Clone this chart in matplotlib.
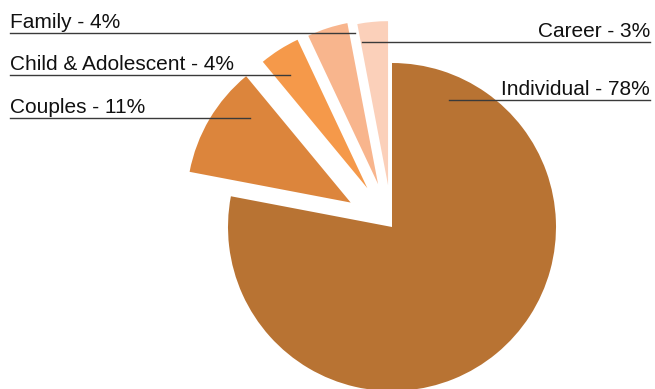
import matplotlib.pyplot as plt

# data
labels = ['Individual', 'Couples', 'Child & Adolescent', 'Family', 'Career']
values = [78, 11, 4, 4, 3]
colors = ['#B87333', '#DC853C', '#F5994A', '#F8B58D', '#FBD0BA']

W, H = 655, 389
fig = plt.figure(figsize=(W / 100, H / 100), dpi=100)
ax = fig.add_axes([0, 0, 1, 1])
ax.set_xlim(0, W)
ax.set_ylim(0, H)
ax.axis('off')

def py(y):
    # pixel row -> data y
    return H - y

ax.pie(values, colors=colors, startangle=90, counterclock=False,
       center=(392, py(227)), radius=164, explode=[0, 48, 46, 45, 42],
       wedgeprops=dict(linewidth=0))
ax.set_xlim(0, W)
ax.set_ylim(0, H)
ax.set_aspect('equal')

font = dict(family='Liberation Sans', fontsize=15, color='#111111')
lc = '#3a3a3a'

# left labels
left = [('Family', 28, 355), ('Child & Adolescent', 70, 290), ('Couples', 113, 250)]
for name, yb, xend in left:
    v = values[labels.index(name)]
    ax.text(10, py(yb), f'{name} - {v}%', ha='left', va='baseline', **font)
    ax.plot([10, xend], [py(yb + 5), py(yb + 5)], color=lc, lw=1)

# right labels
right = [('Career', 37, 362), ('Individual', 95, 449)]
for name, yb, xstart in right:
    v = values[labels.index(name)]
    ax.text(650, py(yb), f'{name} - {v}%', ha='right', va='baseline', **font)
    ax.plot([xstart, 650], [py(yb + 5), py(yb + 5)], color=lc, lw=1)

fig.savefig('out.png', dpi=100)
